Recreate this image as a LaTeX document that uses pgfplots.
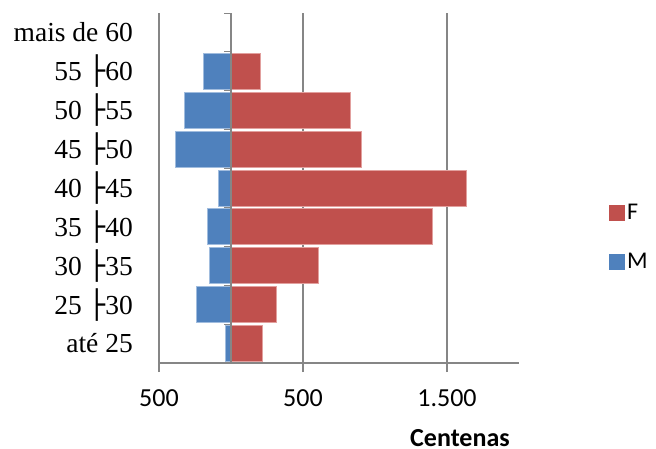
\documentclass[border=0pt]{standalone}
\usepackage{fontspec}
\setmainfont{Carlito}
\newfontfamily\serifcat{Liberation Serif}
\newfontfamily\boxfont{DejaVu Sans}
\usepackage{pgfplots}
\pgfplotsset{compat=1.18}
\definecolor{fred}{RGB}{192,80,77}
\definecolor{mblue}{RGB}{79,129,189}
\definecolor{fredb}{RGB}{226,160,158}
\definecolor{mblueb}{RGB}{160,188,222}
\definecolor{gridgray}{RGB}{134,134,134}
\newcommand{\bx}{{\boxfont ├}}
\begin{document}
\begin{tikzpicture}[x=1pt,y=1pt]
\path[use as bounding box] (0,0) rectangle (656,448);
\begin{axis}[
  at={(159pt,85pt)}, anchor=south west,
  scale only axis, width=360pt, height=350pt,
  xmin=-500, xmax=2000, ymin=-0.5, ymax=8.5,
  axis line style={draw=none},
  xtick={-500,500,1500},
  xticklabels={500,500,1.500},
  xtick pos=bottom,
  tick align=outside,
  major tick length=9pt,
  x tick style={gridgray, line width=1.2pt},
  xmajorgrids=true,
  grid style={gridgray, line width=1.2pt},
  ytick={0,...,8},
  yticklabels={at\'e 25, 25 \bx30, 30 \bx35, 35 \bx40, 40 \bx45, 45 \bx50, 50 \bx55, 55 \bx60, mais de 60},
  y tick style={draw=none},
  ytick pos=left,
  yticklabel style={anchor=east, inner sep=0pt, xshift=-17pt, font=\serifcat\fontsize{27.5}{30}\selectfont},
  xticklabel style={anchor=center, inner sep=0pt, yshift=-26pt, font=\fontsize{26}{28}\selectfont},
  /pgf/number format/assume math mode=true,
  extra y ticks={-0.5},
  extra y tick labels={},
  extra y tick style={grid=major, major grid style={gridgray, line width=1.6pt}, tick style={draw=none}},
  xlabel={Centenas},
  xlabel style={at={(axis description cs:0.836,0)}, anchor=base, yshift=-83pt, font=\bfseries\fontsize{26}{30}\selectfont},
  legend style={draw=none, fill=none, at={(1.25,0.46)}, anchor=north west, font=\fontsize{24}{28}\selectfont, row sep=28pt, inner sep=0pt},
  legend cell align=left,
]
\addplot[xbar, bar width=36pt, bar shift=0pt, fill=fred, draw=fredb, line width=0.8pt,
  legend image code/.code={\fill[fred] (0pt,-7.5pt) rectangle (15pt,7.5pt);}]
  coordinates {(217,0) (312,1) (607,2) (1400,3) (1634,4) (907,5) (826,6) (201,7) (0,8)};
\addlegendentry{F}
\addplot[xbar, bar width=36pt, bar shift=0pt, fill=mblue, draw=mblueb, line width=0.8pt,
  legend image code/.code={\fill[mblue] (0pt,-7.5pt) rectangle (15pt,7.5pt);}]
  coordinates {(-37,0) (-243,1) (-148,2) (-165,3) (-88,4) (-387,5) (-324,6) (-192,7) (0,8)};
\addlegendentry{M}
\draw[gridgray, line width=1.2pt] (axis cs:0,-0.5) -- (axis cs:0,8.5);
\pgfplotsinvokeforeach{-0.5,0.5,1.5,2.5,3.5,4.5,5.5,6.5,7.5,8.5}{
  \draw[gridgray, line width=1.2pt] (axis cs:0,#1) -- (axis cs:-49,#1);
}
\end{axis}
\end{tikzpicture}
\end{document}
